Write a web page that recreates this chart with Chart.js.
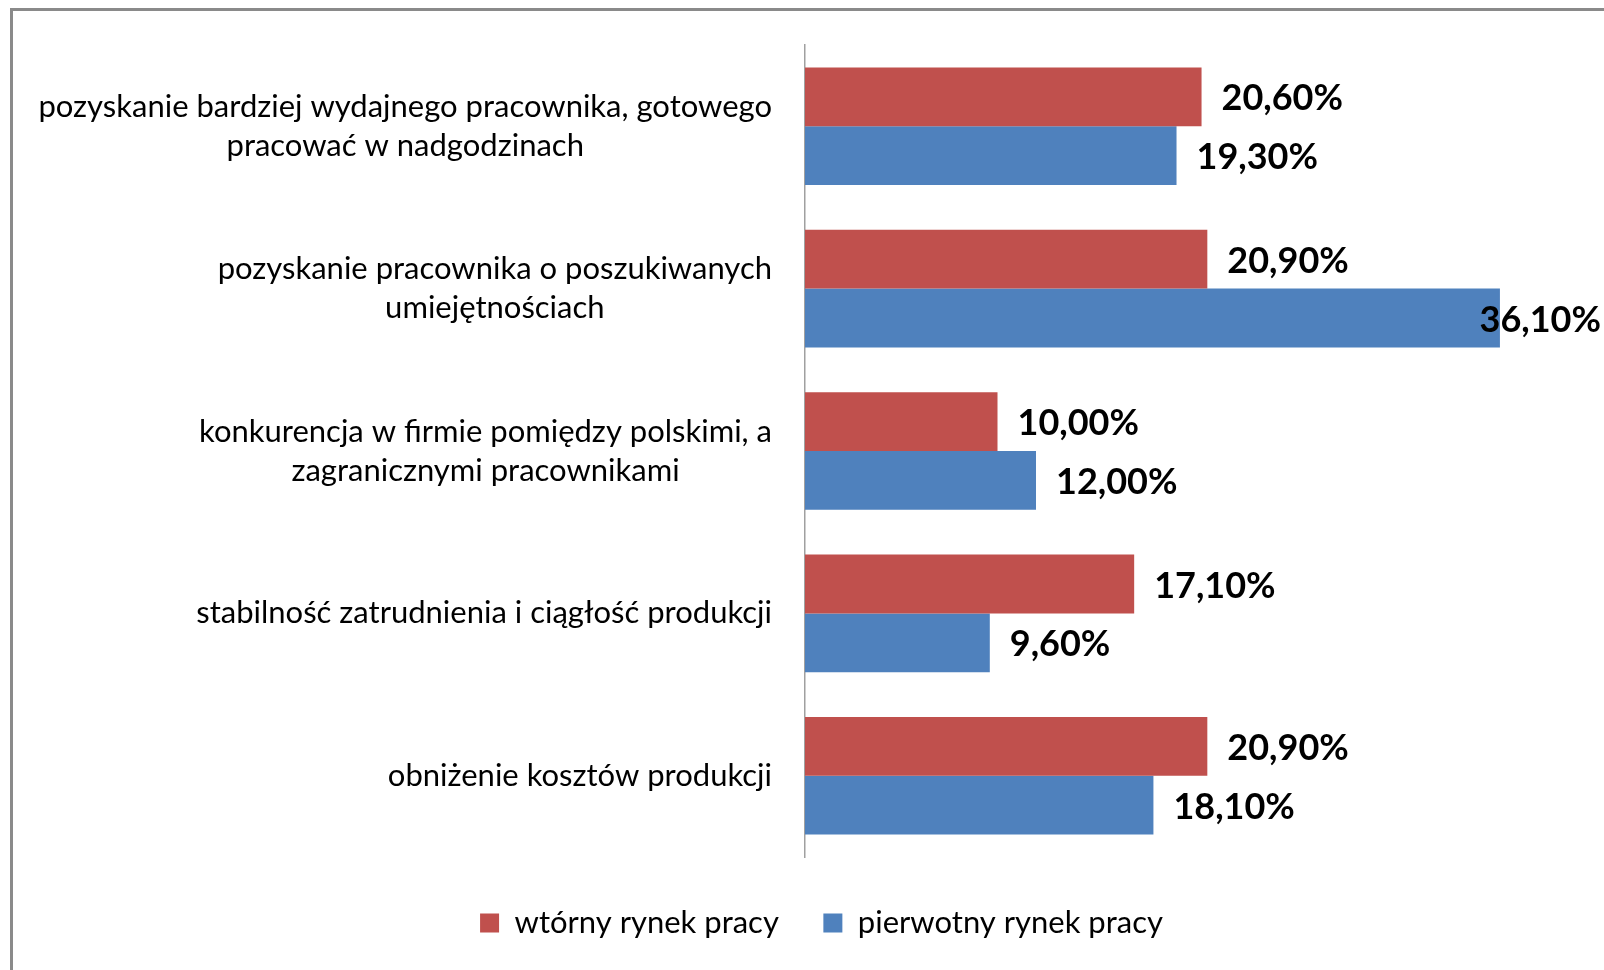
<!DOCTYPE html>
<html lang="pl">
<head>
<meta charset="utf-8">
<title>Wykres</title>
<script src="https://cdn.jsdelivr.net/npm/chart.js@4.4.1/dist/chart.umd.min.js"></script>
<style>
  html, body { margin: 0; padding: 0; background: #fff; overflow: hidden; }
  #wrap { position: relative; width: 1604px; height: 970px; }
  #frame {
    position: absolute; left: 10px; top: 8px; width: 1700px; height: 1100px;
    border-top: 3px solid #8a8a8a; border-left: 3px solid #8a8a8a;
    pointer-events: none;
  }
  #chart { position: absolute; left: 0; top: 0; }
</style>
</head>
<body>
<div id="wrap">
  <div id="frame"></div>
  <canvas id="chart" width="1604" height="970"></canvas>
</div>
<script>
// categories, top to bottom (multi-line labels as arrays)
const categories = [
  ['pozyskanie bardziej wydajnego pracownika, gotowego', 'pracować w nadgodzinach'],
  ['pozyskanie pracownika o poszukiwanych', 'umiejętnościach'],
  ['konkurencja w firmie pomiędzy polskimi, a', 'zagranicznymi pracownikami'],
  ['stabilność zatrudnienia i ciągłość produkcji'],
  ['obniżenie kosztów produkcji']
];
const seriesNames = ['wtórny rynek pracy', 'pierwotny rynek pracy'];
const wtorny = [20.6, 20.9, 10.0, 17.1, 20.9];
const pierwotny = [19.3, 36.1, 12.0, 9.6, 18.1];

const FONT = 'Lato, "Open Sans", sans-serif';
const RED = '#C0504D';
const BLUE = '#4F81BD';
const PAD_LEFT = 68;

const fmt = v => v.toFixed(2).replace('.', ',') + '%';

// category labels: block right-aligned to the axis, lines centred inside the block
const categoryLabels = {
  id: 'categoryLabels',
  afterDraw(chart) {
    const ctx = chart.ctx;
    const y = chart.scales.y;
    const right = y.right - 33;
    const lineH = 39;
    ctx.save();
    ctx.font = '31px ' + FONT;
    ctx.fillStyle = '#000';
    ctx.textAlign = 'center';
    ctx.textBaseline = 'middle';
    categories.forEach((lines, i) => {
      const cy = y.getPixelForTick(i);
      const w = Math.max(...lines.map(l => ctx.measureText(l).width));
      const cx = right - w / 2;
      const y0 = cy - (lines.length - 1) * lineH / 2;
      lines.forEach((l, j) => ctx.fillText(l, cx, y0 + j * lineH));
    });
    ctx.restore();
  }
};

// value labels just past each bar end, kept inside the canvas
const valueLabels = {
  id: 'valueLabels',
  afterDatasetsDraw(chart) {
    const ctx = chart.ctx;
    const limit = chart.width - 3;
    ctx.save();
    ctx.font = 'bold 36px ' + FONT;
    ctx.fillStyle = '#000';
    ctx.textAlign = 'left';
    ctx.textBaseline = 'middle';
    chart.data.datasets.forEach((ds, di) => {
      chart.getDatasetMeta(di).data.forEach((bar, i) => {
        const txt = fmt(ds.data[i]);
        const w = ctx.measureText(txt).width;
        let x = bar.x + 20;
        if (x + w > limit) x = limit - w;
        ctx.fillText(txt, x, bar.y + 2);
      });
    });
    ctx.restore();
  }
};

new Chart(document.getElementById('chart'), {
  type: 'bar',
  data: {
    labels: categories,
    datasets: [
      { label: seriesNames[0], data: wtorny, backgroundColor: RED, borderWidth: 0 },
      { label: seriesNames[1], data: pierwotny, backgroundColor: BLUE, borderWidth: 0 }
    ]
  },
  options: {
    indexAxis: 'y',
    responsive: false,
    animation: false,
    categoryPercentage: 0.724,
    barPercentage: 1,
    layout: { padding: { top: 45, right: 29, bottom: 21.5, left: PAD_LEFT } },
    scales: {
      x: { display: false, min: 0, max: 40 },
      y: {
        grid: { display: false },
        ticks: { display: false },
        border: { display: true, color: '#a0a0a0', width: 1.5 },
        afterFit(scale) { scale.width = 805 - PAD_LEFT; }
      }
    },
    plugins: {
      tooltip: { enabled: false },
      legend: {
        position: 'bottom',
        title: { display: true, text: '', font: { size: 4 }, padding: 0.6 },
        labels: {
          font: { family: FONT, size: 31 },
          color: '#000',
          boxWidth: 19,
          boxHeight: 19,
          padding: 44.5
        }
      }
    }
  },
  plugins: [categoryLabels, valueLabels]
});
</script>
</body>
</html>
